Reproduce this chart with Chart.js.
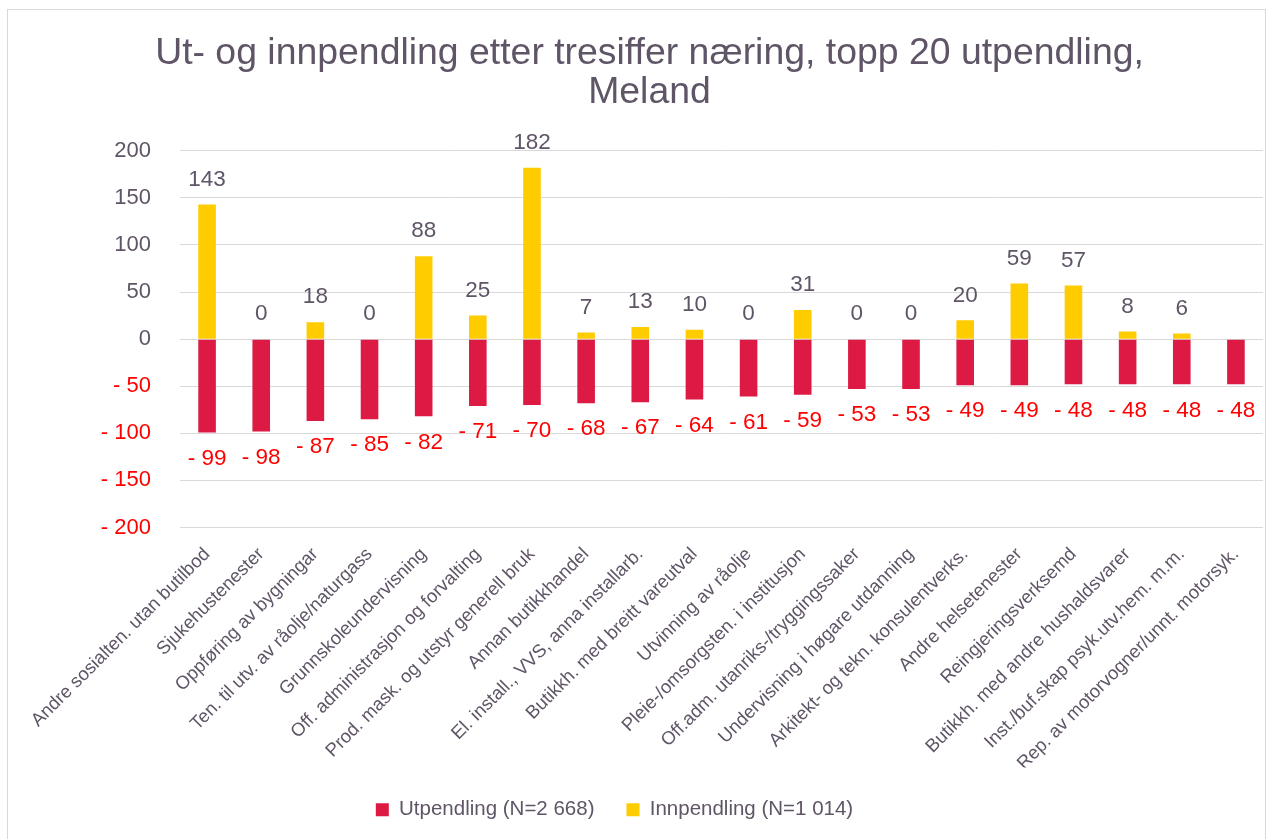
<!DOCTYPE html>
<html>
<head>
<meta charset="utf-8">
<script src="https://cdn.jsdelivr.net/npm/chart.js@4"></script>
<style>
  html, body { margin: 0; padding: 0; background: #fff; overflow: hidden; }
  .frame { position: absolute; left: 7px; top: 9px; width: 1257px; height: 900px; border: 1px solid #d9d9d9; }
  .wrap { position: absolute; left: 0; top: 0; width: 1279px; height: 839px; }
</style>
</head>
<body>
<div class="frame"></div>
<div class="wrap"><canvas id="pendling" width="1279" height="839"></canvas></div>
<script>
const naeringar = [
    'Andre sosialten. utan butilbod',
    'Sjukehustenester',
    'Oppføring av bygningar',
    'Ten. til utv. av råolje/naturgass',
    'Grunnskoleundervisning',
    'Off. administrasjon og forvalting',
    'Prod. mask. og utstyr generell bruk',
    'Annan butikkhandel',
    'El. install., VVS, anna installarb.',
    'Butikkh. med breitt vareutval',
    'Utvinning av råolje',
    'Pleie-/omsorgsten. i institusjon',
    'Off.adm. utanriks-/tryggingssaker',
    'Undervisning i høgare utdanning',
    'Arkitekt- og tekn. konsulentverks.',
    'Andre helsetenester',
    'Reingjeringsverksemd',
    'Butikkh. med andre hushaldsvarer',
    'Inst./buf.skap psyk.utv.hem. m.m.',
    'Rep. av motorvogner/unnt. motorsyk.'
];
const utpendling = [-99, -98, -87, -85, -82, -71, -70, -68, -67, -64, -61, -59, -53, -53, -49, -49, -48, -48, -48, -48];
const innpendling = [143, 0, 18, 0, 88, 25, 182, 7, 13, 10, 0, 31, 0, 0, 20, 59, 57, 8, 6, null];

const GRAA = '#5f5566';
const RAUD = '#ff0000';
const FONT = "'Liberation Sans', Arial, sans-serif";

// labels over/under the bars, like the excel data labels
const verdiEtikettar = {
    id: 'verdiEtikettar',
    afterDatasetsDraw(chart) {
        const ctx = chart.ctx;
        const y = chart.scales.y;
        ctx.save();
        ctx.font = `22.5px ${FONT}`;
        ctx.textAlign = 'center';
        ctx.textBaseline = 'middle';
        chart.data.datasets.forEach((ds, i) => {
            const meta = chart.getDatasetMeta(i);
            meta.data.forEach((bar, j) => {
                const v = ds.data[j];
                if (v === null || v === undefined) return;
                const py = y.getPixelForValue(v);
                if (v < 0) {
                    ctx.fillStyle = RAUD;
                    ctx.fillText('- ' + Math.abs(v), bar.x, py + 26);
                } else {
                    ctx.fillStyle = GRAA;
                    ctx.fillText(String(v), bar.x, py - 25);
                }
            });
        });
        ctx.restore();
    }
};

// title sits a bit right of centre, legend a bit left, as in the original
const flyttBoksar = {
    id: 'flyttBoksar',
    afterLayout(chart) {
        if (chart.titleBlock) { chart.titleBlock.left += 18; chart.titleBlock.right += 18; }
        if (chart.legend) { chart.legend.left -= 17; chart.legend.right -= 17; }
    }
};

Chart.defaults.font.family = FONT;
Chart.defaults.color = GRAA;

new Chart(document.getElementById('pendling'), {
    type: 'bar',
    data: {
        labels: naeringar,
        datasets: [{
            label: 'Utpendling (N=2 668)',
            data: utpendling,
            backgroundColor: '#dc1a44',
            barPercentage: 0.65,
            categoryPercentage: 0.5
        }, {
            label: 'Innpendling (N=1 014)',
            data: innpendling,
            backgroundColor: '#ffcc00',
            barPercentage: 0.65,
            categoryPercentage: 0.5
        }]
    },
    options: {
        responsive: false,
        animation: false,
        layout: { padding: { left: 0, right: 16, top: 0, bottom: 9 } },
        plugins: {
            title: {
                display: true,
                text: ['Ut- og innpendling etter tresiffer næring, topp 20 utpendling,', 'Meland'],
                color: GRAA,
                font: { size: 37.4, weight: 'normal', lineHeight: 1.04 },
                padding: { top: 34, bottom: 39 }
            },
            legend: {
                position: 'bottom',
                labels: {
                    color: GRAA,
                    font: { size: 20.5 },
                    boxWidth: 13,
                    boxHeight: 13,
                    padding: 32
                }
            },
            tooltip: { enabled: false }
        },
        scales: {
            x: {
                stacked: true,
                grid: { display: false },
                border: { display: false },
                ticks: {
                    color: GRAA,
                    font: { size: 18.5 },
                    minRotation: 45,
                    maxRotation: 45,
                    autoSkip: false,
                    padding: 8
                },
                afterFit: s => { s.height = 240; }
            },
            y: {
                stacked: true,
                min: -200,
                max: 200,
                grid: { color: '#d9d9d9', drawTicks: false },
                border: { display: false },
                ticks: {
                    stepSize: 50,
                    padding: 29,
                    font: { size: 22 },
                    color: c => c.tick.value < 0 ? RAUD : GRAA,
                    callback: v => v < 0 ? '- ' + Math.abs(v) : v
                },
                afterFit: s => { s.width = 180; }
            }
        }
    },
    plugins: [verdiEtikettar, flyttBoksar]
});
</script>
</body>
</html>
